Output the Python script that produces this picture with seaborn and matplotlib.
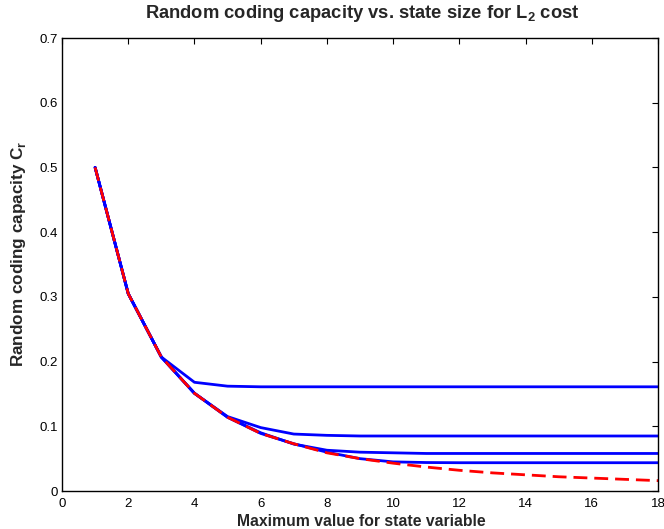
import numpy as np
import pandas as pd
import matplotlib
matplotlib.use("Agg")
import matplotlib.pyplot as plt
import seaborn as sns

x = list(range(1, 19))
curve_a = [0.5, 0.305, 0.207, 0.168, 0.162, 0.161, 0.161, 0.161, 0.161, 0.161,
           0.161, 0.161, 0.161, 0.161, 0.161, 0.161, 0.161, 0.161]
curve_b = [0.5, 0.305, 0.207, 0.151, 0.115, 0.098, 0.088, 0.086, 0.085, 0.085,
           0.085, 0.085, 0.085, 0.085, 0.085, 0.085, 0.085, 0.085]
curve_c = [0.5, 0.305, 0.207, 0.151, 0.114, 0.090, 0.0725, 0.063, 0.060, 0.059,
           0.058, 0.058, 0.058, 0.058, 0.058, 0.058, 0.058, 0.058]
curve_d = [0.5, 0.305, 0.207, 0.151, 0.114, 0.089, 0.073, 0.060, 0.050, 0.045,
           0.044, 0.0437, 0.0437, 0.0437, 0.0437, 0.0437, 0.0437, 0.0437]
bound = [0.5, 0.305, 0.207, 0.151, 0.114, 0.089, 0.073, 0.059, 0.050, 0.043,
         0.037, 0.032, 0.028, 0.025, 0.022, 0.020, 0.018, 0.016]

xticks = list(range(0, 19, 2))
yticks = [0, 0.1, 0.2, 0.3, 0.4, 0.5, 0.6, 0.7]
ytick_labels = ["0", "0.1", "0.2", "0.3", "0.4", "0.5", "0.6", "0.7"]

title_text = r"Random coding capacity vs. state size for L$_\mathbf{2}$ cost"
xlabel_text = "Maximum value for state variable"
ylabel_text = r"Random coding capacity C$_\mathbf{r}$"

blue = pd.DataFrame({
    "x": x * 4,
    "y": curve_a + curve_b + curve_c + curve_d,
    "curve": ["a"] * 18 + ["b"] * 18 + ["c"] * 18 + ["d"] * 18,
})
red = pd.DataFrame({"x": x, "y": bound})

sns.set_style("white")
plt.rcParams['font.family'] = ['Liberation Sans', 'DejaVu Sans']
plt.rcParams['mathtext.fontset'] = 'custom'
plt.rcParams['mathtext.rm'] = 'Liberation Sans'
plt.rcParams['mathtext.bf'] = 'Liberation Sans:bold'

W, H = 664, 529
fig = plt.figure(figsize=(W / 100, H / 100), dpi=100)
ax = fig.add_axes([62 / W, (H - 491) / H, (658 - 62) / W, (491 - 38) / H])

sns.lineplot(data=blue, x="x", y="y", units="curve", estimator=None,
             color="#0000ff", linewidth=2.0, ax=ax, legend=False)
sns.lineplot(data=red, x="x", y="y", color="#ff0000", linewidth=2.0,
             ax=ax, legend=False)
ax.lines[-1].set_dashes([5, 2.5])

ax.set_xlim(0, 18)
ax.set_ylim(0, 0.7)
ax.set_xticks(xticks)
ax.set_yticks(yticks)
ax.set_yticklabels(ytick_labels)
ax.tick_params(direction="in", top=True, right=True, length=4, width=0.8,
               labelsize=9.5, colors="black")
ax.tick_params(axis="x", pad=5)
ax.tick_params(axis="y", pad=3)
ax.set_xlabel("")
ax.set_ylabel("")
for s in ax.spines.values():
    s.set_visible(True)
    s.set_color("black")
    s.set_linewidth(1.0)

t = fig.text(362 / W, (H - 18) / H, title_text, ha="center", va="baseline",
             fontsize=12, fontweight="bold")
xl = fig.text(361.5 / W, (H - 526) / H, xlabel_text, ha="center", va="baseline",
              fontsize=11, fontweight="bold")
yl = fig.text(19 / W, (H - 254) / H, ylabel_text, ha="center", va="center",
              rotation=90, fontsize=11, fontweight="bold")

fig.canvas.draw()
r = fig.canvas.get_renderer()
for obj, target, dim in [(t, 434, "w"), (xl, 249, "w"), (yl, 227, "h")]:
    bb = obj.get_window_extent(r)
    cur = bb.width if dim == "w" else bb.height
    obj.set_fontsize(obj.get_fontsize() * target / cur)

fig.savefig("out.png", dpi=100)
